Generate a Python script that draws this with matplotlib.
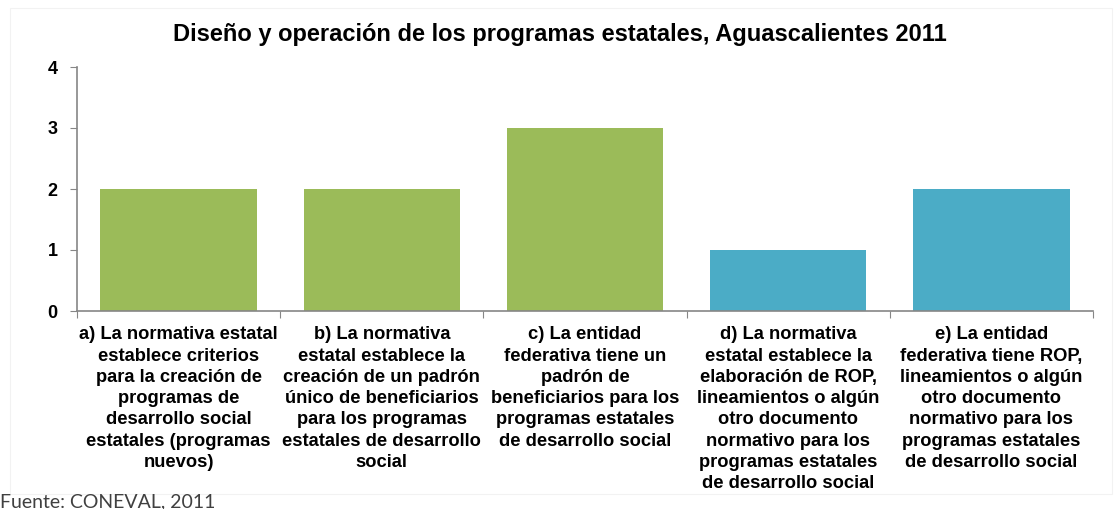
import numpy as np
import matplotlib
matplotlib.use("Agg")
import matplotlib.pyplot as plt
from matplotlib.patches import Rectangle

plt.rcParams['font.family'] = ['Liberation Sans', 'DejaVu Sans']

categorias = [
    "a) La normativa estatal\nestablece criterios\npara la creación de\nprogramas de\ndesarrollo social\nestatales (programas\nnuevos)",
    "b) La normativa\nestatal establece la\ncreación de un padrón\núnico de beneficiarios\npara los programas\nestatales de desarrollo\nsocial",
    "c) La entidad\nfederativa tiene un\npadrón de\nbeneficiarios para los\nprogramas estatales\nde desarrollo social",
    "d) La normativa\nestatal establece la\nelaboración de ROP,\nlineamientos o algún\notro documento\nnormativo para los\nprogramas estatales\nde desarrollo social",
    "e) La entidad\nfederativa tiene ROP,\nlineamientos o algún\notro documento\nnormativo para los\nprogramas estatales\nde desarrollo social",
]
valores = [2, 2, 3, 1, 2]
colores = ["#9BBB59", "#9BBB59", "#9BBB59", "#4BACC6", "#4BACC6"]

fig = plt.figure(figsize=(11.19, 5.09), dpi=100)
# marco tenue del area del grafico
fig.patches.append(Rectangle((0.009, 0.03), 0.985, 0.955, transform=fig.transFigure,
                             fill=False, edgecolor="#F2F2F2", linewidth=0.8))

ax = fig.add_axes([77/1119, 1 - 311/509, (1093-77)/1119, (311-67)/509])
x = np.arange(len(valores))
ax.bar(x, valores, width=0.77, color=colores)

ax.set_xlim(-0.5, len(valores) - 0.5)
ax.set_ylim(0, 4)
ax.set_yticks([0, 1, 2, 3, 4])
ax.set_yticklabels(["0", "1", "2", "3", "4"], fontsize=13, fontweight="bold")
ax.set_xticks(np.arange(-0.5, len(valores), 1.0))
ax.set_xticklabels([])
ax.tick_params(axis='x', length=5, color="#868686", direction="out")
ax.tick_params(axis='y', length=5, color="#868686", pad=9)

for s in ['top', 'right']:
    ax.spines[s].set_visible(False)
for s in ['left', 'bottom']:
    ax.spines[s].set_color("#868686")
    ax.spines[s].set_linewidth(1.2)

for i, lab in enumerate(categorias):
    ax.annotate(lab, xy=(i, 0), xycoords=('data', 'axes fraction'),
                xytext=(0, -11), textcoords='offset points',
                ha='center', va='top', fontsize=13.2, fontweight='bold',
                linespacing=1.33)

fig.text(0.5, 1 - 34/509, "Diseño y operación de los programas estatales, Aguascalientes 2011",
         ha='center', va='center', fontsize=17, fontweight='bold')

fig.text(0, 1 - 502/509, "Fuente: CONEVAL, 2011", ha='left', va='center',
         fontsize=14, color="#404040", family=['Lato', 'DejaVu Sans'])

fig.savefig("out.png", dpi=100)
